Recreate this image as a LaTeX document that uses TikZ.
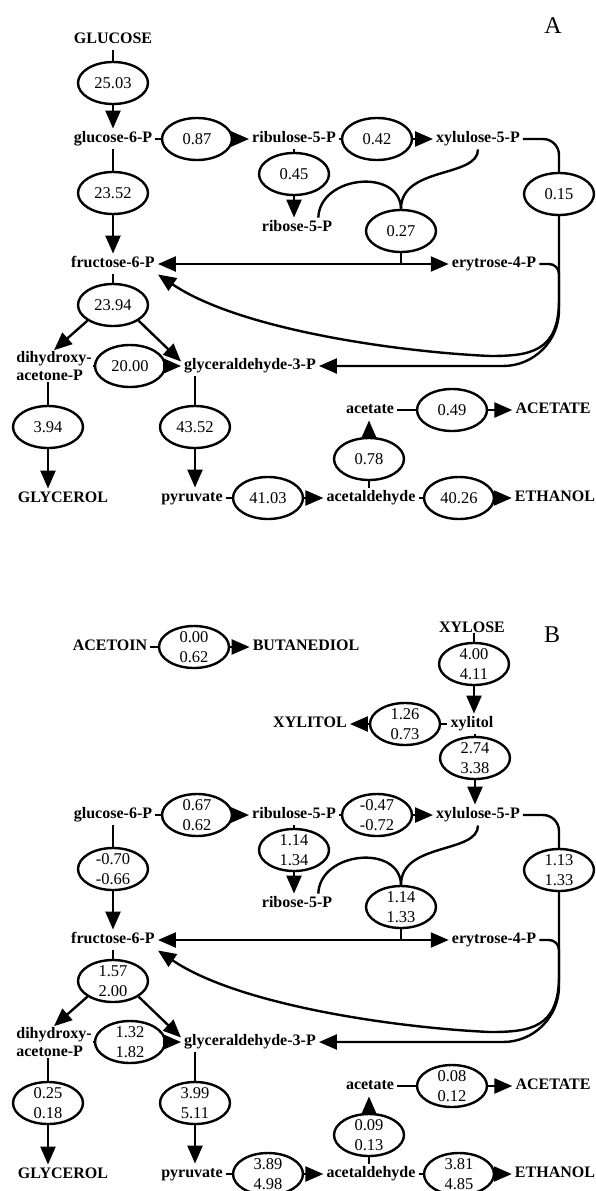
\documentclass[tikz,border=0pt]{standalone}
\usepackage{fontspec}
\setmainfont{Liberation Serif}
\usetikzlibrary{positioning,calc}
\usetikzlibrary{arrows.meta,shapes.geometric}
\tikzset{
  met/.style={font=\fontsize{16}{18}\selectfont\bfseries,inner sep=3pt,text height=11pt,text depth=3.5pt},
  met2/.style={font=\fontsize{16}{18}\selectfont\bfseries,inner sep=1pt,align=left},
  flux/.style={ellipse,draw,line width=2.4pt,minimum width=70pt,minimum height=42pt,inner sep=0pt,
    font=\fontsize{16.5}{20}\selectfont,text height=11pt,text depth=0pt},
  edge/.style={line width=2.4pt},
  arr/.style={edge,-{Triangle[length=18pt,width=15pt]}},
  darr/.style={edge,{Triangle[length=18pt,width=15pt]}-{Triangle[length=18pt,width=15pt]}},
}
\tikzset{panel/.style={font=\fontsize{24}{28}\selectfont,inner sep=0pt}}
\newcommand{\twoval}[2]{\smash{\begin{tabular}{@{}c@{}}#1\\#2\end{tabular}}}

\begin{document}
\begin{tikzpicture}[x=1pt,y=-1pt]
\useasboundingbox (0,0) rectangle (595,1191);
\node[panel] (labA) at (553,26) {A};
\node[met] (glcA) at (113,40) {GLUCOSE};
\node[flux] (fGlcA) at (113,83) {25.03};
\node[met] (g6pA) at (113,139) {glucose-6-P};
\node[flux] (fZwfA) at (197,139) {0.87};
\node[met] (ru5pA) at (294,139) {ribulose-5-P};
\node[flux] (fRpeA) at (377,139) {0.42};
\node[met] (xu5pA) at (478,139) {xylulose-5-P};
\node[flux] (fRpiA) at (294,174) {0.45};
\node[met] (r5pA) at (297,228) {ribose-5-P};
\node[flux] (fTktA) at (401,231) {0.27};
\node[flux] (fTk2A) at (559,194) {0.15};
\node[flux] (fPgiA) at (113,193) {23.52};
\node[met] (f6pA) at (113,264) {fructose-6-P};
\node[met] (e4pA) at (494,264) {erytrose-4-P};
\node[flux] (fPfkA) at (113,305) {23.94};
\node[met2] (dhapA) at (54,366) {dihydroxy-\\acetone-P};
\node[flux] (fTpiA) at (130,366) {20.00};
\node[met] (gapA) at (250,366) {glyceraldehyde-3-P};
\node[flux] (fGpdA) at (48,427) {3.94};
\node[flux] (fGapA) at (195,427) {43.52};
\node[met] (glyA) at (63,499) {GLYCEROL};
\node[met] (pyrA) at (192,498) {pyruvate};
\node[flux] (fPdcA) at (268,498) {41.03};
\node[met] (aldA) at (371,498) {acetaldehyde};
\node[flux] (fAldA) at (369,459) {0.78};
\node[met] (acA) at (370,410) {acetate};
\node[flux] (fAcA) at (452,410) {0.49};
\node[met] (acxA) at (553,410) {ACETATE};
\node[flux] (fAdhA) at (459,498) {40.26};
\node[met] (etoA) at (555,498) {ETHANOL};
\coordinate (jnA) at (559,300);
\draw[edge] (glcA) -- (fGlcA);
\draw[arr] (fGlcA) -- (g6pA);
\draw[edge] (g6pA) -- (fZwfA);
\draw[arr] (fZwfA) -- (ru5pA);
\draw[edge] (ru5pA) -- (fRpeA);
\draw[arr] (fRpeA) -- (xu5pA);
\draw[edge] (ru5pA) -- (fRpiA);
\draw[arr] (fRpiA) -- (fRpiA |- r5pA.north);
\draw[edge] (g6pA) -- (fPgiA);
\draw[arr] (fPgiA) -- (f6pA);
\draw[darr] (f6pA) -- (e4pA);
\draw[edge] (fTktA) -- (fTktA |- f6pA);
\draw[edge] ([xshift=-17pt]r5pA.north east) .. controls (320,175) and (400,168) .. (fTktA.north);
\draw[edge] (xu5pA.south) .. controls (478,178) and (401,166) .. (fTktA.north);
\draw[edge,rounded corners=16pt] (xu5pA.east) -| (fTk2A.north);
\draw[arr,rounded corners=56pt] (fTk2A.south) |- (gapA.east);
\draw[edge,rounded corners=10pt] (e4pA.east) -| (jnA);
\draw[arr] (jnA) .. controls (559,352) and (530,356) .. (490,356) .. controls (400,352) and (240,330) .. (f6pA.south east);
\draw[edge] (f6pA) -- (fPfkA);
\draw[arr] (fPfkA.south west) -- (dhapA.north);
\draw[arr] (fPfkA.south east) -- ([yshift=-6pt]gapA.north west);
\draw[edge] (dhapA) -- (fTpiA);
\draw[arr] (fTpiA) -- (gapA);
\draw[edge] (dhapA.south -| fGpdA) -- (fGpdA);
\draw[arr] (fGpdA) -- (fGpdA |- glyA.north);
\draw[edge] (gapA.south -| fGapA) -- (fGapA);
\draw[arr] (fGapA) -- (fGapA |- pyrA.north);
\draw[edge] (pyrA) -- (fPdcA);
\draw[arr] (fPdcA) -- (aldA);
\draw[edge] (aldA.north -| fAldA) -- (fAldA);
\draw[arr] (fAldA) -- (fAldA |- acA.south);
\draw[edge] (acA) -- (fAcA);
\draw[arr] (fAcA) -- (acxA);
\draw[edge] (aldA) -- (fAdhA);
\draw[arr] (fAdhA) -- (etoA);

\begin{scope}[shift={(0,676)}]
\node[panel] (labB) at (552,-41) {B};
\node[met] (actB) at (110,-29) {ACETOIN};
\node[flux] (fBdhB) at (194,-29) {\twoval{0.00}{0.62}};
\node[met] (bdoB) at (306,-29) {BUTANEDIOL};
\node[met] (xylB) at (472,-47) {XYLOSE};
\node[flux] (fXylB) at (474,-12) {\twoval{4.00}{4.11}};
\node[met] (xolB) at (472,48) {xylitol};
\node[flux] (fXrB) at (405,48) {\twoval{1.26}{0.73}};
\node[met] (xolxB) at (310,48) {XYLITOL};
\node[flux] (fXdhB) at (475,82) {\twoval{2.74}{3.38}};
\node[met] (g6pB) at (113,139) {glucose-6-P};
\node[flux] (fZwfB) at (197,139) {\twoval{0.67}{0.62}};
\node[met] (ru5pB) at (294,139) {ribulose-5-P};
\node[flux] (fRpeB) at (377,139) {\twoval{-0.47}{-0.72}};
\node[met] (xu5pB) at (478,139) {xylulose-5-P};
\node[flux] (fRpiB) at (294,174) {\twoval{1.14}{1.34}};
\node[met] (r5pB) at (297,228) {ribose-5-P};
\node[flux] (fTktB) at (401,231) {\twoval{1.14}{1.33}};
\node[flux] (fTk2B) at (559,194) {\twoval{1.13}{1.33}};
\node[flux] (fPgiB) at (113,193) {\twoval{-0.70}{-0.66}};
\node[met] (f6pB) at (113,264) {fructose-6-P};
\node[met] (e4pB) at (494,264) {erytrose-4-P};
\node[flux] (fPfkB) at (113,305) {\twoval{1.57}{2.00}};
\node[met2] (dhapB) at (54,366) {dihydroxy-\\acetone-P};
\node[flux] (fTpiB) at (130,366) {\twoval{1.32}{1.82}};
\node[met] (gapB) at (250,366) {glyceraldehyde-3-P};
\node[flux] (fGpdB) at (48,427) {\twoval{0.25}{0.18}};
\node[flux] (fGapB) at (195,427) {\twoval{3.99}{5.11}};
\node[met] (glyB) at (63,499) {GLYCEROL};
\node[met] (pyrB) at (192,498) {pyruvate};
\node[flux] (fPdcB) at (268,498) {\twoval{3.89}{4.98}};
\node[met] (aldB) at (371,498) {acetaldehyde};
\node[flux] (fAldB) at (369,459) {\twoval{0.09}{0.13}};
\node[met] (acB) at (370,410) {acetate};
\node[flux] (fAcB) at (452,410) {\twoval{0.08}{0.12}};
\node[met] (acxB) at (553,410) {ACETATE};
\node[flux] (fAdhB) at (459,498) {\twoval{3.81}{4.85}};
\node[met] (etoB) at (555,498) {ETHANOL};
\coordinate (jnB) at (559,300);
\draw[edge] (actB) -- (fBdhB);
\draw[arr] (fBdhB) -- (bdoB);
\draw[edge] (xylB.base -| fXylB) -- (fXylB);
\draw[arr] (fXylB) -- (fXylB |- xolB.north);
\draw[edge] (xolB) -- (fXrB);
\draw[arr] (fXrB) -- (xolxB);
\draw[edge] (xolB.south -| fXdhB) -- (fXdhB);
\draw[arr] (fXdhB) -- (fXdhB |- xu5pB.north);
\draw[edge] (g6pB) -- (fZwfB);
\draw[arr] (fZwfB) -- (ru5pB);
\draw[edge] (ru5pB) -- (fRpeB);
\draw[arr] (fRpeB) -- (xu5pB);
\draw[edge] (ru5pB) -- (fRpiB);
\draw[arr] (fRpiB) -- (fRpiB |- r5pB.north);
\draw[edge] (g6pB) -- (fPgiB);
\draw[arr] (fPgiB) -- (f6pB);
\draw[darr] (f6pB) -- (e4pB);
\draw[edge] (fTktB) -- (fTktB |- f6pB);
\draw[edge] ([xshift=-17pt]r5pB.north east) .. controls (320,175) and (400,168) .. (fTktB.north);
\draw[edge] (xu5pB.south) .. controls (478,178) and (401,166) .. (fTktB.north);
\draw[edge,rounded corners=16pt] (xu5pB.east) -| (fTk2B.north);
\draw[arr,rounded corners=56pt] (fTk2B.south) |- (gapB.east);
\draw[edge,rounded corners=10pt] (e4pB.east) -| (jnB);
\draw[arr] (jnB) .. controls (559,352) and (530,356) .. (490,356) .. controls (400,352) and (240,330) .. (f6pB.south east);
\draw[edge] (f6pB) -- (fPfkB);
\draw[arr] (fPfkB.south west) -- (dhapB.north);
\draw[arr] (fPfkB.south east) -- ([yshift=-6pt]gapB.north west);
\draw[edge] (dhapB) -- (fTpiB);
\draw[arr] (fTpiB) -- (gapB);
\draw[edge] (dhapB.south -| fGpdB) -- (fGpdB);
\draw[arr] (fGpdB) -- (fGpdB |- glyB.north);
\draw[edge] (gapB.south -| fGapB) -- (fGapB);
\draw[arr] (fGapB) -- (fGapB |- pyrB.north);
\draw[edge] (pyrB) -- (fPdcB);
\draw[arr] (fPdcB) -- (aldB);
\draw[edge] (aldB.north -| fAldB) -- (fAldB);
\draw[arr] (fAldB) -- (fAldB |- acB.south);
\draw[edge] (acB) -- (fAcB);
\draw[arr] (fAcB) -- (acxB);
\draw[edge] (aldB) -- (fAdhB);
\draw[arr] (fAdhB) -- (etoB);
\end{scope}
\end{tikzpicture}
\end{document}
